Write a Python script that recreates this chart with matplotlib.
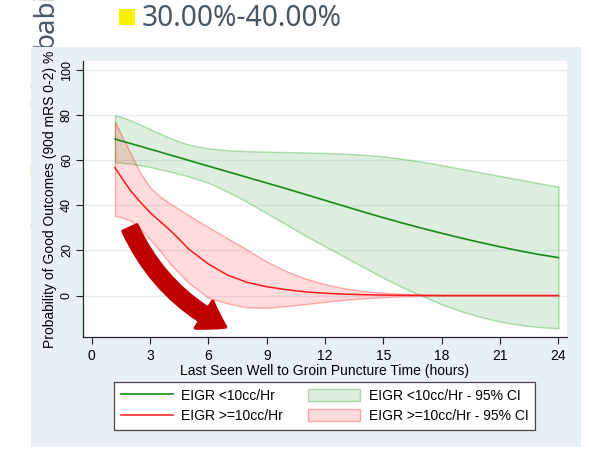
import matplotlib
matplotlib.use('Agg')
import matplotlib.pyplot as plt
from matplotlib.patches import Rectangle, FancyArrowPatch, Patch
from matplotlib.lines import Line2D

# Predicted probability of good outcome by time from last seen well
hours = [1.2, 1.6, 2, 2.5, 3, 3.5, 4, 4.5, 5, 6, 7, 8, 9, 10, 11, 12,
         13, 14, 15, 16, 17, 18, 19, 20, 21, 22, 23, 24]

low_eigr = [69.4, 68.4, 67.4, 66.2, 64.9, 63.7, 62.4, 61.2, 59.9, 57.4, 54.9, 52.4, 49.9, 47.4,
            44.8, 42.2, 39.6, 37.0, 34.5, 32.1, 29.8, 27.6, 25.5, 23.5, 21.6, 19.8, 18.2, 16.8]
low_eigr_hi = [80.0, 79.0, 77.7, 75.8, 73.8, 71.8, 70.0, 68.3, 66.9, 65.2, 64.4, 64.0, 63.8, 63.6,
               63.4, 63.2, 62.9, 62.4, 61.7, 60.6, 59.3, 57.8, 56.2, 54.6, 53.0, 51.4, 49.8, 48.3]
low_eigr_lo = [59.0, 58.8, 58.5, 57.8, 57.0, 56.0, 55.0, 54.0, 52.8, 50.0, 46.0, 41.5, 36.5, 31.5,
               26.5, 21.8, 17.2, 12.5, 7.8, 3.6, -0.2, -3.9, -7.0, -9.5, -11.6, -13.0, -14.0, -14.5]

high_eigr = [56.7, 51.5, 46.5, 41.5, 36.8, 33.0, 29.2, 25.0, 20.5, 14.0, 9.0, 5.8, 3.9, 2.6,
             1.6, 1.0, 0.6, 0.35, 0.2, 0.1, 0.05, 0.0, 0.0, 0.0, 0.0, 0.0, 0.0, 0.0]
high_eigr_hi = [77.0, 70.0, 63.0, 54.5, 48.0, 44.0, 41.0, 38.2, 35.5, 30.3, 25.3, 20.3, 15.0, 10.8,
                7.5, 5.0, 3.2, 2.0, 1.2, 0.7, 0.4, 0.2, 0.1, 0.0, 0.0, 0.0, 0.0, 0.0]
high_eigr_lo = [35.4, 34.5, 33.2, 29.5, 25.0, 20.0, 14.5, 10.0, 5.5, -1.0, -3.5, -5.3, -5.4, -4.7,
                -3.8, -2.8, -1.9, -1.2, -0.7, -0.35, -0.15, -0.05, 0.0, 0.0, 0.0, 0.0, 0.0, 0.0]

xticks = [0, 3, 6, 9, 12, 15, 18, 21, 24]
yticks = [0, 20, 40, 60, 80, 100]

# arrow drawn over the plot (hours, percent)
arrow_start = (1.97, 29.9)
arrow_end = (7.02, -14.5)

W, H = 589, 455


def fx(px):
    return px / W


def fy(py):
    return 1 - py / H


plt.rcParams['font.family'] = ['Liberation Sans', 'DejaVu Sans']

fig = plt.figure(figsize=(W / 100, H / 100), dpi=100)
fig.patch.set_facecolor('white')

# bits of the slide behind the graph window
fig.text(fx(46), fy(48), 'bability', rotation=90, ha='center', va='bottom',
         fontsize=20, color='#4b5763', family='Noto Sans', zorder=-2)
fig.add_artist(Rectangle((fx(119), fy(25)), 16 / W, 16 / H, transform=fig.transFigure,
                         facecolor='#f7f200', edgecolor='none', zorder=-2))
fig.text(fx(142), fy(26), '30.00%-40.00%', ha='left', va='baseline',
         fontsize=20.3, color='#4a5662', family='Noto Sans', zorder=-2)
for sy in [85, 103, 167, 173, 227]:
    fig.add_artist(Rectangle((fx(29.5), fy(sy + 3)), 1.5 / W, 6 / H, transform=fig.transFigure,
                             facecolor='#fbe6cc', edgecolor='none', zorder=-0.5))

# graph region background
fig.add_artist(Rectangle((fx(31), fy(447)), (581 - 31) / W, (447 - 47) / H,
                         transform=fig.transFigure, facecolor='#e9f0f3',
                         edgecolor='none', zorder=-1))

ax = fig.add_axes([fx(82.7), fy(337), (567 - 82.7) / W, (337 - 61) / H])
ax.set_facecolor('white')

green_fill = (0.0, 0.5, 0.0, 0.13)
green_edge = (0.0, 0.6, 0.0, 0.30)
red_fill = (1.0, 0.0, 0.0, 0.14)
red_edge = (1.0, 0.0, 0.0, 0.30)

ax.fill_between(hours, low_eigr_lo, low_eigr_hi, facecolor=green_fill,
                edgecolor=green_edge, linewidth=1.0, zorder=2)
ax.fill_between(hours, high_eigr_lo, high_eigr_hi, facecolor=red_fill,
                edgecolor=red_edge, linewidth=1.0, zorder=2)
ax.plot(hours, low_eigr, color='#158a15', linewidth=1.2, zorder=3)
ax.plot(hours, high_eigr, color='#ff1a1a', linewidth=1.1, zorder=3)

arrow = FancyArrowPatch(arrow_start, arrow_end, connectionstyle='arc3,rad=0.18',
                        arrowstyle='simple,head_length=1.8,head_width=2.3,tail_width=1.1',
                        mutation_scale=10, facecolor='#c00000', edgecolor='#c00000',
                        linewidth=2.5, joinstyle='round', capstyle='round',
                        shrinkA=0, shrinkB=2, zorder=5)
ax.add_patch(arrow)

ax.set_xlim(-0.46, 24.44)
ax.set_ylim(-18.4, 104)
ax.set_xticks(xticks)
ax.set_yticks(yticks)
ax.grid(axis='y', color='#e7eef1', linewidth=1.0, zorder=0)
ax.set_axisbelow(True)
for side in ['top', 'right']:
    ax.spines[side].set_visible(False)
for side in ['left', 'bottom']:
    ax.spines[side].set_color('#222222')
    ax.spines[side].set_linewidth(0.9)
ax.tick_params(axis='x', length=5, width=0.8, color='#222222', labelsize=10, pad=4)
ax.tick_params(axis='y', length=5, width=0.8, color='#222222', labelsize=9, pad=2,
               labelrotation=90)
for lbl in ax.get_yticklabels():
    lbl.set_va('center')

ax.set_xlabel('Last Seen Well to Groin Puncture Time (hours)', fontsize=10, labelpad=0)
ax.set_ylabel('Probability of Good Outcomes (90d mRS 0-2) %', fontsize=10, labelpad=3)

handles = [
    Line2D([], [], color='#158a15', linewidth=1.2),
    Line2D([], [], color='#ff1a1a', linewidth=1.1),
    Patch(facecolor=green_fill, edgecolor=green_edge, linewidth=1.0),
    Patch(facecolor=red_fill, edgecolor=red_edge, linewidth=1.0),
]
labels = ['EIGR <10cc/Hr', 'EIGR >=10cc/Hr',
          'EIGR <10cc/Hr - 95% CI', 'EIGR >=10cc/Hr - 95% CI']
leg = fig.legend(handles, labels, ncol=2, loc='center',
                 bbox_to_anchor=(fx(324.7), fy(406)), fontsize=10,
                 frameon=True, fancybox=False, framealpha=1, edgecolor='#444444',
                 handlelength=3.75, handleheight=0.95, handletextpad=0.6,
                 columnspacing=1.8, labelspacing=0.45, borderpad=0.5)
leg.get_frame().set_linewidth(0.9)

fig.savefig('out.png', dpi=100)
